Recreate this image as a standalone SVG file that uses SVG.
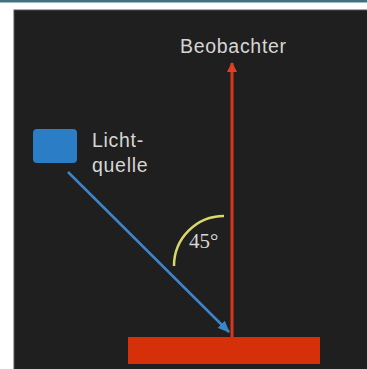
<svg xmlns="http://www.w3.org/2000/svg" width="367" height="369" viewBox="0 0 367 369">
<style>
.lbl{font-family:"Liberation Sans",Arial,sans-serif;font-size:19.5px;fill:#d6d6d6;letter-spacing:0.7px}
.deg{font-family:"Liberation Serif","Times New Roman",serif;font-size:21px;fill:#d6d6d6}
</style>
<defs>
<marker id="ar" markerWidth="10" markerHeight="10" refX="9" refY="5" orient="auto" markerUnits="userSpaceOnUse">
<path d="M0,0 L10,5 L0,10 Z" fill="#e0401e"/>
</marker>
<marker id="ab" markerWidth="12" markerHeight="10" refX="11" refY="5" orient="auto" markerUnits="userSpaceOnUse">
<path d="M0,0 L12,5 L0,10 Z" fill="#3a86c8"/>
</marker>
</defs>
<rect x="0" y="0" width="367" height="369" fill="#ffffff"/>
<rect x="0" y="0" width="367" height="2.5" fill="#41707e"/>
<rect x="14" y="10" width="360" height="366" fill="#1f1f1f" stroke="#555" stroke-width="1"/>
<g id="connectors">
<line x1="232" y1="337" x2="232" y2="63" stroke="#d8391c" stroke-width="3" marker-end="url(#ar)"/>
<line x1="68" y1="172" x2="229" y2="332" stroke="#3a86c8" stroke-width="2.5" marker-end="url(#ab)"/>
<path d="M174,266 A50,50 0 0 1 224,216" fill="none" stroke="#d9d66a" stroke-width="2.5"/>
</g>
<g id="mirror"><rect x="128" y="337" width="192" height="27" fill="#d6300b"/></g>
<g id="source"><rect x="33" y="129" width="44" height="34" rx="4" fill="#2b7dc6"/>
<text class="lbl" x="92" y="147">Licht-</text>
<text class="lbl" x="92" y="172">quelle</text></g>
<g id="observer"><text class="lbl" x="180" y="53">Beobachter</text></g>
<g id="angle"><text class="deg" x="189" y="248">45°</text></g>
</svg>
